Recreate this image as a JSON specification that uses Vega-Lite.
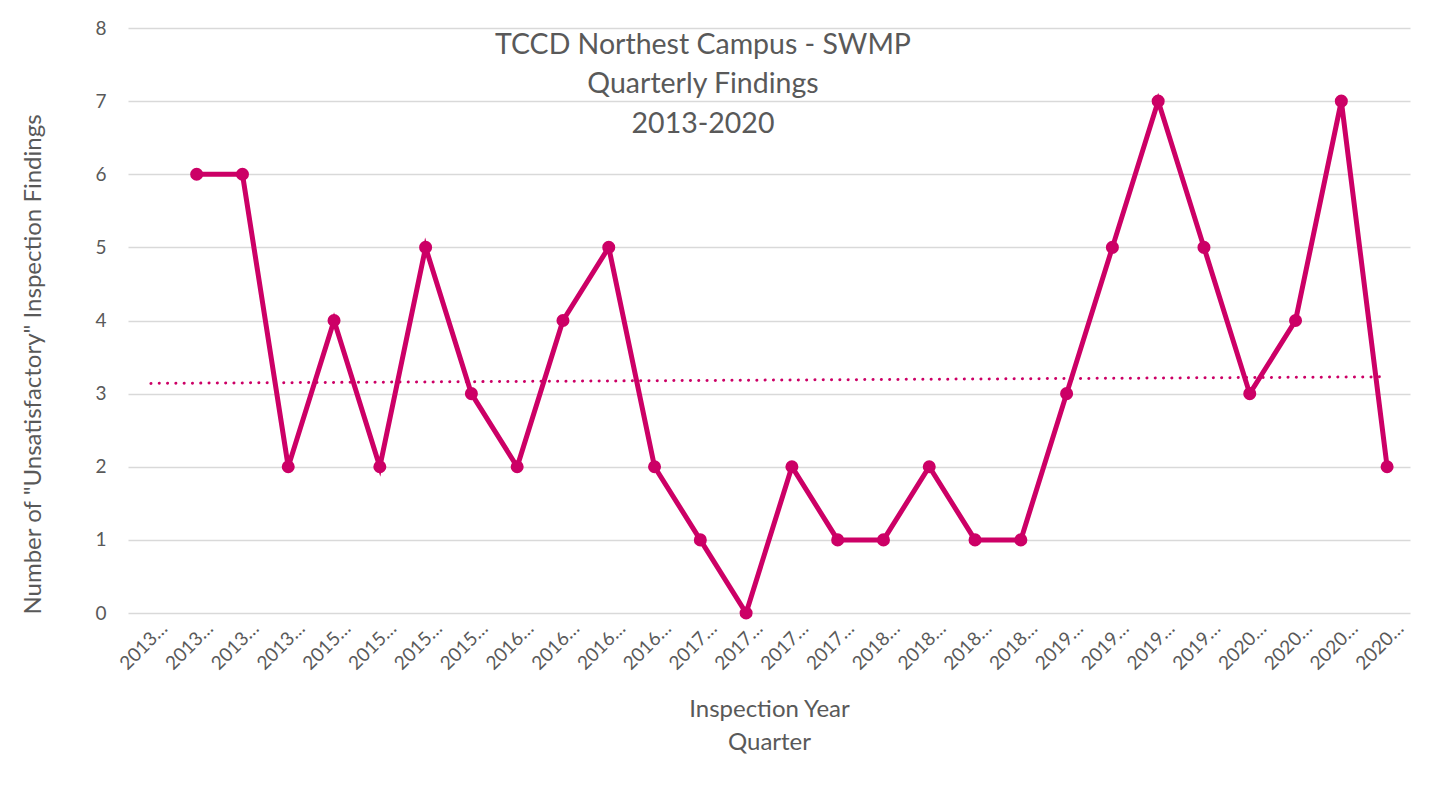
{
  "$schema": "https://vega.github.io/schema/vega-lite/v6.json",
  "autosize": {"type": "none"},
  "width": 1282,
  "height": 585,
  "padding": {"left": 128, "top": 28, "right": 21, "bottom": 191},
  "background": "white",
  "config": {
    "font": "Lato",
    "view": {"stroke": null}
  },
  "title": {
    "text": ["TCCD Northest Campus - SWMP", "Quarterly Findings", "2013-2020"],
    "anchor": "middle",
    "frame": "group",
    "baseline": "top",
    "fontSize": 28.5,
    "fontWeight": "normal",
    "color": "#595959",
    "lineHeight": 39.5,
    "dx": -66,
    "dy": 123
  },
  "data": {
    "values": [
      {"idx": 1, "quarter": "2013 Q1", "findings": null, "trend": 3.14},
      {"idx": 2, "quarter": "2013 Q2", "findings": 6, "trend": null},
      {"idx": 3, "quarter": "2013 Q3", "findings": 6, "trend": null},
      {"idx": 4, "quarter": "2013 Q4", "findings": 2, "trend": null},
      {"idx": 5, "quarter": "2015 Q1", "findings": 4, "trend": null},
      {"idx": 6, "quarter": "2015 Q2", "findings": 2, "trend": null},
      {"idx": 7, "quarter": "2015 Q3", "findings": 5, "trend": null},
      {"idx": 8, "quarter": "2015 Q4", "findings": 3, "trend": null},
      {"idx": 9, "quarter": "2016 Q1", "findings": 2, "trend": null},
      {"idx": 10, "quarter": "2016 Q2", "findings": 4, "trend": null},
      {"idx": 11, "quarter": "2016 Q3", "findings": 5, "trend": null},
      {"idx": 12, "quarter": "2016 Q4", "findings": 2, "trend": null},
      {"idx": 13, "quarter": "2017 Q1", "findings": 1, "trend": null},
      {"idx": 14, "quarter": "2017 Q2", "findings": 0, "trend": null},
      {"idx": 15, "quarter": "2017 Q3", "findings": 2, "trend": null},
      {"idx": 16, "quarter": "2017 Q4", "findings": 1, "trend": null},
      {"idx": 17, "quarter": "2018 Q1", "findings": 1, "trend": null},
      {"idx": 18, "quarter": "2018 Q2", "findings": 2, "trend": null},
      {"idx": 19, "quarter": "2018 Q3", "findings": 1, "trend": null},
      {"idx": 20, "quarter": "2018 Q4", "findings": 1, "trend": null},
      {"idx": 21, "quarter": "2019 Q1", "findings": 3, "trend": null},
      {"idx": 22, "quarter": "2019 Q2", "findings": 5, "trend": null},
      {"idx": 23, "quarter": "2019 Q3", "findings": 7, "trend": null},
      {"idx": 24, "quarter": "2019 Q4", "findings": 5, "trend": null},
      {"idx": 25, "quarter": "2020 Q1", "findings": 3, "trend": null},
      {"idx": 26, "quarter": "2020 Q2", "findings": 4, "trend": null},
      {"idx": 27, "quarter": "2020 Q3", "findings": 7, "trend": null},
      {"idx": 28, "quarter": "2020 Q4", "findings": 2, "trend": 3.23}
    ]
  },
  "encoding": {
    "x": {
      "field": "quarter",
      "type": "ordinal",
      "sort": {"field": "idx"},
      "scale": {"type": "point", "padding": 0.5},
      "axis": {
        "title": ["Inspection Year", "Quarter"],
        "titleFontSize": 24,
        "titleFontWeight": "normal",
        "titleColor": "#595959",
        "titleLineHeight": 33,
        "titleBaseline": "top",
        "titleY": 84,
        "labelExpr": "slice(datum.label, 0, 4) + '…'",
        "labelAngle": -45,
        "labelAlign": "right",
        "labelBaseline": "middle",
        "labelFontSize": 19,
        "labelColor": "#595959",
        "labelPadding": 12,
        "labelOffset": 13,
        "domain": false,
        "ticks": false,
        "grid": false
      }
    }
  },
  "layer": [
    {
      "mark": {"type": "line", "color": "#CC0066", "strokeWidth": 5},
      "encoding": {
        "y": {
          "field": "findings",
          "type": "quantitative",
          "scale": {"domain": [0, 8], "nice": false},
          "axis": {
            "title": "Number of \"Unsatisfactory\" Inspection Findings",
            "titleFontSize": 24,
            "titleFontWeight": "normal",
            "titleColor": "#595959",
            "titleAngle": -90,
            "titleBaseline": "middle",
            "titleX": -95,
            "titleY": 336,
            "tickCount": 8,
            "labelFontSize": 19,
            "labelColor": "#595959",
            "labelPadding": 22,
            "domain": false,
            "ticks": false,
            "grid": true,
            "gridColor": "#D9D9D9",
            "gridWidth": 1.5
          }
        }
      }
    },
    {
      "mark": {"type": "point", "filled": true, "color": "#CC0066", "size": 170, "opacity": 1},
      "encoding": {
        "y": {"field": "findings", "type": "quantitative"}
      }
    },
    {
      "transform": [{"filter": "datum.trend != null"}],
      "mark": {"type": "line", "color": "#CC0066", "strokeWidth": 3, "strokeDash": [0.1, 8.2], "strokeCap": "round"},
      "encoding": {
        "y": {"field": "trend", "type": "quantitative"}
      }
    }
  ]
}
